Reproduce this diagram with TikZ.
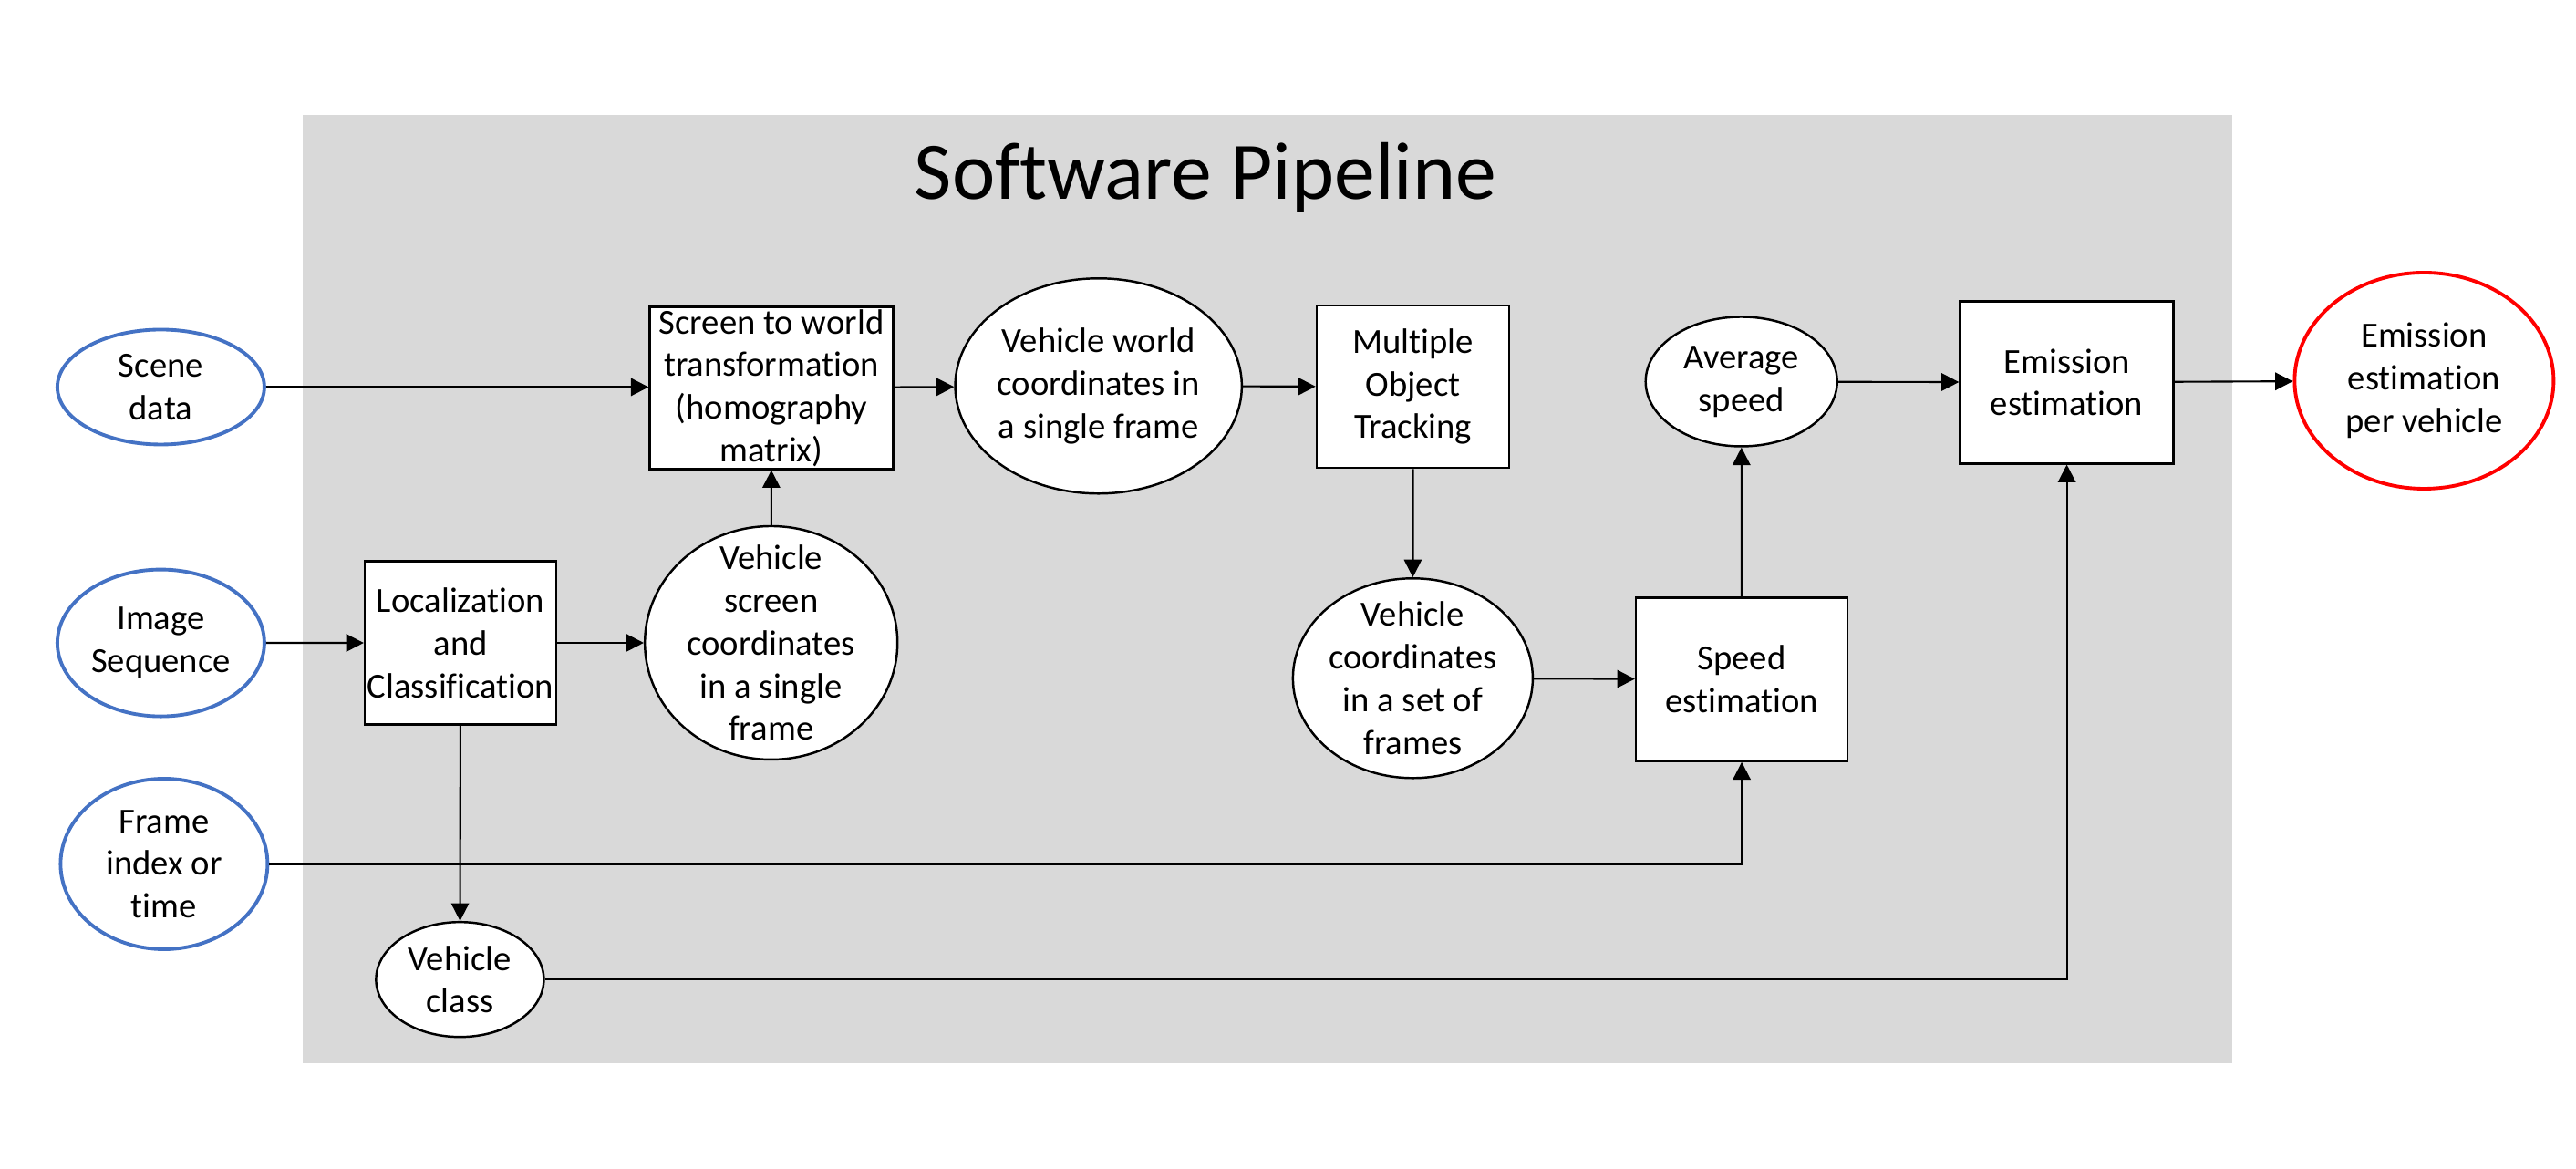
\documentclass[tikz,border=0pt]{standalone}
\usepackage{fontspec}
\setmainfont{Carlito}[Ligatures=NoCommon]
\usetikzlibrary{arrows.meta,shapes,calc}
\definecolor{entrada}{RGB}{68,114,196}
\definecolor{fondo}{RGB}{217,217,217}
\tikzset{
	every node/.style={
		font=\fontsize{11}{13.3}\selectfont,
		align=center,
		inner sep=0pt
	},
	proceso/.style={
		shape=rectangle,
		draw,
		fill=white,
		line width=0.7pt,
		minimum height=1.78cm
	},
	dato/.style={
		shape=ellipse,
		draw,
		fill=white,
		line width=0.7pt,
		inner ysep=-0.3cm
	},
	entrada/.style={
		shape=ellipse,
		draw=entrada,
		fill=white,
		line width=1.1pt,
		inner ysep=-0.3cm,
		minimum width=2.27cm
	},
	salida/.style={
		shape=ellipse,
		draw=red,
		fill=white,
		line width=1.1pt,
		inner ysep=-0.3cm
	},
	myarrow/.style={-{Triangle[length=5.5pt,width=5.5pt]}, line width=0.6pt}
}

\begin{document}
\begin{tikzpicture}
	\useasboundingbox (0,0) rectangle (28.25,12.82);
	\fill[fondo] (3.32,1.164) rectangle (24.48,11.557);
	\node[font=\fontsize{25.5}{30}\selectfont, anchor=base] (titulo) at (13.22,10.63) {Software Pipeline};
	
	% entradas
	\node[entrada, minimum height=1.26cm] (scene) at (1.764,8.575) {Scene\\data};
	\node[entrada, minimum height=1.61cm] (image) at (1.764,5.769) {Image\\Sequence};
	\node[entrada, minimum height=1.87cm] (frame) at (1.799,3.345) {Frame\\index or\\time};
	
	% fila superior
	\node[proceso, minimum width=2.67cm] (screen) at (8.46,8.566) {Screen to world\\transformation\\(homography\\matrix)};
	\node[dato, minimum width=3.14cm, minimum height=2.36cm] (world) at (12.047,8.587) {Vehicle world\\coordinates in\\a single frame};
	\node[proceso, minimum width=2.11cm] (mot) at (15.495,8.579) {Multiple\\Object\\Tracking};
	\node[dato, minimum width=2.10cm, minimum height=1.42cm] (avg) at (19.097,8.635) {Average\\speed};
	\node[proceso, minimum width=2.34cm] (emis) at (22.666,8.627) {Emission\\estimation};
	\node[salida, minimum width=2.84cm, minimum height=2.37cm] (out) at (26.584,8.645) {Emission\\estimation\\per vehicle};
	
	% fila inferior
	\node[proceso, minimum width=2.10cm, minimum height=1.79cm] (loc) at (5.051,5.77) {Localization\\and\\Classification};
	\node[dato, minimum width=2.77cm, minimum height=2.56cm] (vscreen) at (8.457,5.77) {Vehicle\\screen\\coordinates\\in a single\\frame};
	\node[dato, minimum width=2.63cm, minimum height=2.19cm] (vset) at (15.494,5.382) {Vehicle\\coordinates\\in a set of\\frames};
	\node[proceso, minimum width=2.32cm, minimum height=1.79cm] (speed) at (19.101,5.37) {Speed\\estimation};
	\node[dato, minimum width=1.84cm, minimum height=1.26cm] (vclass) at (5.044,2.078) {Vehicle\\class};
	
	\draw[myarrow] (scene) -- (screen.west |- scene);
	\draw[myarrow] (screen) -- (world);
	\draw[myarrow] (world) -- (mot);
	\draw[myarrow] (mot) -- (vset);
	\draw[myarrow] (vset) -- (speed);
	\draw[myarrow] (speed) -- (avg);
	\draw[myarrow] (avg) -- (emis);
	\draw[myarrow] (emis) -- (out);
	\draw[myarrow] (image) -- (loc);
	\draw[myarrow] (loc) -- (vscreen);
	\draw[myarrow] (vscreen) -- (screen);
	\draw[myarrow] (loc) -- (vclass);
	\draw[myarrow] (frame.east) -| (speed.south);
	\draw[myarrow] (vclass.east) -| (emis.south);
\end{tikzpicture}
\end{document}
